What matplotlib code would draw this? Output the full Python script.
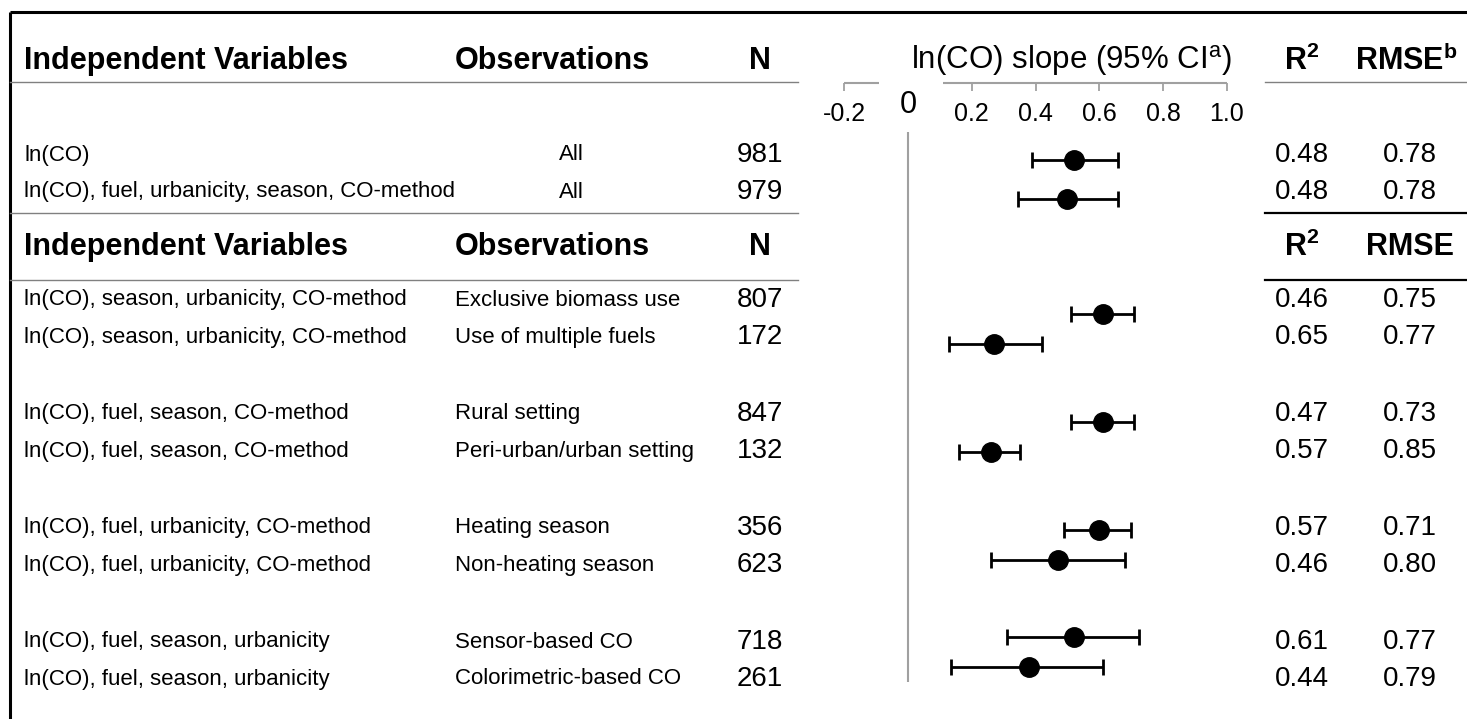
import numpy as np
import matplotlib
matplotlib.use('Agg')
import matplotlib.pyplot as plt

plt.rcParams['font.family'] = ['Liberation Sans', 'DejaVu Sans']
plt.rcParams['mathtext.fontset'] = 'custom'
plt.rcParams['mathtext.rm'] = 'Liberation Sans'
plt.rcParams['mathtext.bf'] = 'Liberation Sans:bold'

# table / forest plot data
variables = ['ln(CO)',
             'ln(CO), fuel, urbanicity, season, CO-method',
             'ln(CO), season, urbanicity, CO-method',
             'ln(CO), season, urbanicity, CO-method',
             'ln(CO), fuel, season, CO-method',
             'ln(CO), fuel, season, CO-method',
             'ln(CO), fuel, urbanicity, CO-method',
             'ln(CO), fuel, urbanicity, CO-method',
             'ln(CO), fuel, season, urbanicity',
             'ln(CO), fuel, season, urbanicity']
observations = ['All', 'All',
                'Exclusive biomass use', 'Use of multiple fuels',
                'Rural setting', 'Peri-urban/urban setting',
                'Heating season', 'Non-heating season',
                'Sensor-based CO', 'Colorimetric-based CO']
n_obs = [981, 979, 807, 172, 847, 132, 356, 623, 718, 261]
slope = [0.52, 0.50, 0.61, 0.27, 0.61, 0.26, 0.60, 0.47, 0.52, 0.38]
ci_low = [0.39, 0.345, 0.51, 0.13, 0.51, 0.16, 0.49, 0.26, 0.31, 0.135]
ci_high = [0.66, 0.66, 0.71, 0.42, 0.71, 0.35, 0.70, 0.68, 0.725, 0.61]
r2 = [0.48, 0.48, 0.46, 0.65, 0.47, 0.57, 0.57, 0.46, 0.61, 0.44]
rmse = [0.78, 0.78, 0.75, 0.77, 0.73, 0.85, 0.71, 0.80, 0.77, 0.79]
tick_values = [-0.2, 0.2, 0.4, 0.6, 0.8, 1.0]
tick_labels = ['-0.2', '0.2', '0.4', '0.6', '0.8', '1.0']

# layout in pixels (figure is 1467 x 719)
W, H = 1467, 719
text_y = [155, 192, 300, 337, 414, 451, 528, 565, 642, 679]
mark_y = [160, 199, 314, 344, 422, 452, 530, 560, 637, 667]
x_var, x_obs, x_all, x_n, x_r2, x_rmse = 24, 455, 571, 760, 1302, 1410

fig = plt.figure(figsize=(W / 100, H / 100), dpi=100)

tab = fig.add_axes([0, 0, 1, 1])
tab.set_xlim(0, W)
tab.set_ylim(H, 0)
tab.axis('off')

# frame (top and left visible)
tab.plot([10, W], [12, 12], color='black', lw=2.2, solid_capstyle='butt')
tab.plot([10, 10], [12, H], color='black', lw=2.2, solid_capstyle='butt')

hdr = dict(fontsize=22, fontweight='bold', va='center')
for yh in [61, 247]:
    tab.text(x_var, yh, 'Independent Variables', ha='left', **hdr)
    tab.text(x_obs, yh, 'Observations', ha='left', **hdr)
    tab.text(x_n, yh, 'N', ha='center', **hdr)
tab.text(x_r2, 61, r'R$^{\mathbf{2}}$', ha='center', **hdr)
tab.text(x_rmse - 4, 61, r'RMSE$^{\mathbf{b}}$', ha='center', **hdr)
tab.text(x_r2, 247, r'R$^{\mathbf{2}}$', ha='center', **hdr)
tab.text(x_rmse, 247, 'RMSE', ha='center', **hdr)
tab.text(1071, 61, r'ln(CO) slope (95% CI$^{\mathrm{a}}$)', ha='center',
         va='center', fontsize=22.5)

# separator lines
for yl in [82, 213, 280]:
    tab.plot([10, 798], [yl, yl], color='#808080', lw=1.0)
tab.plot([1265, W], [82, 82], color='#808080', lw=1.0)
tab.plot([1265, W], [213, 213], color='black', lw=1.6)
tab.plot([1265, W], [280, 280], color='black', lw=1.6)

for i in range(len(variables)):
    y = text_y[i]
    tab.text(x_var, y, variables[i], ha='left', va='center', fontsize=16)
    if observations[i] == 'All':
        tab.text(x_all, y, 'All', ha='center', va='center', fontsize=16)
    else:
        tab.text(x_obs, y, observations[i], ha='left', va='center', fontsize=16)
    tab.text(x_n, y, str(n_obs[i]), ha='center', va='center', fontsize=20)
    tab.text(x_r2, y, f'{r2[i]:.2f}', ha='center', va='center', fontsize=20)
    tab.text(x_rmse, y, f'{rmse[i]:.2f}', ha='center', va='center', fontsize=20)

# forest plot
ax = fig.add_axes([844 / W, 0, 383 / W, 1])
ax.patch.set_visible(False)
ax.set_xlim(-0.2, 1.0)
ax.set_ylim(H, 0)
for s in ax.spines.values():
    s.set_visible(False)
ax.spines['bottom'].set_position(('data', 83))

slope_a = np.array(slope)
err = [slope_a - np.array(ci_low), np.array(ci_high) - slope_a]
ax.errorbar(slope, mark_y, xerr=err, fmt='o', color='black', ms=14,
            elinewidth=2, capsize=6, capthick=2)

ax.set_xticks(tick_values)
ax.set_xticklabels(tick_labels)
ax.set_yticks([])
ax.tick_params(axis='x', direction='out', length=6, width=1.3,
               color='#a0a0a0', labelsize=18, pad=8)
ax.hlines(83, -0.2, -0.09, color='#a0a0a0', lw=1.5)
ax.hlines(83, 0.11, 1.0, color='#a0a0a0', lw=1.5)
ax.text(0, 105, '0', ha='center', va='center', fontsize=22)
ax.vlines(0, 132, 682, color='#a0a0a0', lw=1.5)

fig.savefig('out.png', dpi=100)
